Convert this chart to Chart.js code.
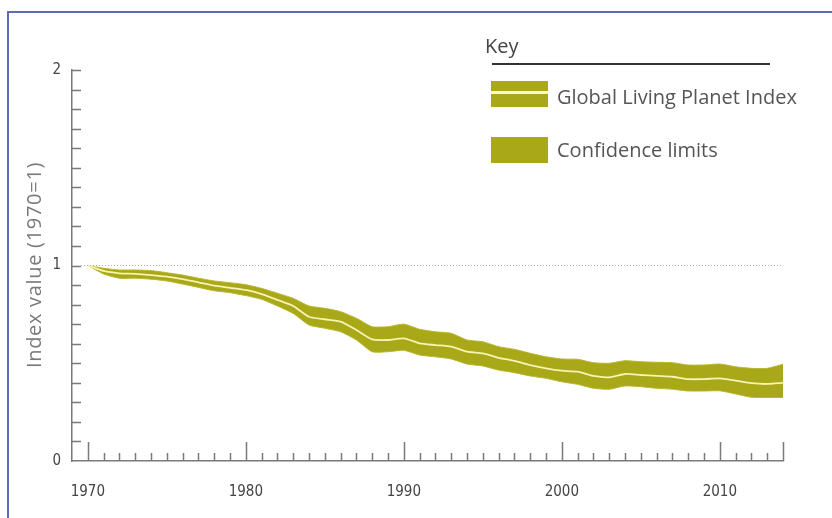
<!DOCTYPE html>
<html>
<head>
<meta charset="utf-8">
<title>Global Living Planet Index</title>
<script src="https://cdn.jsdelivr.net/npm/chart.js@4.4.1/dist/chart.umd.min.js"></script>
<style>
  html, body { margin: 0; padding: 0; background: #fff; }
  #wrap { position: relative; width: 832px; height: 518px; overflow: hidden; }
  #frame {
    position: absolute; left: 7px; top: 11px; right: 0; bottom: 0;
    border-top: 2px solid #5a6db3; border-left: 2px solid #5a6db3;
  }
  #chart { position: absolute; left: 0; top: 0; }
  .key-text {
    position: absolute; font-family: 'Open Sans', sans-serif; font-size: 20px;
    line-height: 20px; color: #555; white-space: nowrap;
  }
  #yTitle {
    position: absolute; left: -96px; top: 253px; width: 260px; height: 24px;
    font-family: 'Open Sans', sans-serif; font-size: 20px; line-height: 24px;
    letter-spacing: 0.7px; color: #7a7a7a; text-align: center; white-space: nowrap;
    transform: rotate(-90deg); transform-origin: 50% 50%;
  }
  .swatch { position: absolute; left: 491px; width: 57px; height: 26px; background: #a8a818; }
  .swatch .mid { position: absolute; left: 0; right: 0; top: 10px; height: 3px; background: #fbf8cc; }
  #keyRule { position: absolute; left: 492px; top: 63px; width: 278px; height: 2px; background: #333; }
</style>
</head>
<body>
<div id="wrap">
  <div id="frame"></div>
  <canvas id="chart" width="832" height="518"></canvas>
  <div id="yTitle">Index value (1970=1)</div>
  <div class="key-text" style="left:485px; top:36px; color:#444;">Key</div>
  <div id="keyRule"></div>
  <div class="swatch" style="top:81px;"><div class="mid"></div></div>
  <div class="key-text" style="left:557px; top:87px;">Global Living Planet Index</div>
  <div class="swatch" style="top:137px;"></div>
  <div class="key-text" style="left:557px; top:140px;">Confidence limits</div>
</div>
<script>
// Years on the x axis
const years = [1970, 1971, 1972, 1973, 1974, 1975, 1976, 1977, 1978, 1979,
  1980, 1981, 1982, 1983, 1984, 1985, 1986, 1987, 1988, 1989,
  1990, 1991, 1992, 1993, 1994, 1995, 1996, 1997, 1998, 1999,
  2000, 2001, 2002, 2003, 2004, 2005, 2006, 2007, 2008, 2009,
  2010, 2011, 2012, 2013, 2014];

// Index value (1970 = 1)
const lpiIndex = [1.000, 0.972, 0.960, 0.957, 0.951, 0.943, 0.930, 0.914, 0.897, 0.886,
  0.875, 0.854, 0.824, 0.793, 0.738, 0.725, 0.713, 0.670, 0.622, 0.619,
  0.627, 0.602, 0.593, 0.585, 0.559, 0.551, 0.528, 0.512, 0.491, 0.474,
  0.462, 0.457, 0.435, 0.428, 0.445, 0.440, 0.435, 0.431, 0.419, 0.419,
  0.423, 0.411, 0.398, 0.394, 0.400];

// Confidence limits
const upperLimit = [1.000, 0.986, 0.977, 0.977, 0.974, 0.963, 0.951, 0.935, 0.921, 0.912,
  0.902, 0.883, 0.858, 0.832, 0.793, 0.781, 0.764, 0.730, 0.687, 0.687,
  0.700, 0.674, 0.661, 0.653, 0.619, 0.610, 0.585, 0.571, 0.551, 0.533,
  0.522, 0.520, 0.503, 0.500, 0.513, 0.508, 0.505, 0.503, 0.491, 0.491,
  0.496, 0.482, 0.474, 0.474, 0.495];
const lowerLimit = [1.000, 0.957, 0.935, 0.935, 0.930, 0.921, 0.905, 0.888, 0.871, 0.861,
  0.846, 0.827, 0.793, 0.755, 0.696, 0.679, 0.661, 0.619, 0.559, 0.559,
  0.566, 0.542, 0.533, 0.522, 0.496, 0.486, 0.465, 0.452, 0.435, 0.423,
  0.405, 0.392, 0.372, 0.367, 0.384, 0.380, 0.372, 0.367, 0.358, 0.358,
  0.359, 0.343, 0.326, 0.325, 0.325];

// Labelled ticks
const xTickLabels = [1970, 1980, 1990, 2000, 2010];
const yTickLabels = [0, 1, 2];

const olive = '#a8a818';
const lineCol = '#f7f3b0';
const axisCol = '#7a7a7a';
const labelFont = { family: "'DejaVu Sans Condensed', 'Liberation Sans Narrow', sans-serif", size: 15 };

const toPoints = arr => arr.map((v, i) => ({ x: years[i], y: v }));

// inward tick marks and the dotted 1970 baseline
const axisMarks = {
  id: 'axisMarks',
  beforeDatasetsDraw(chart) {
    const { ctx, scales: { x, y } } = chart;
    const yp = y.getPixelForValue(1);
    ctx.save();
    ctx.strokeStyle = '#b0b0b0';
    ctx.lineWidth = 1;
    ctx.setLineDash([1, 2]);
    ctx.beginPath();
    ctx.moveTo(x.left + 9, yp);
    ctx.lineTo(x.getPixelForValue(years[years.length - 1]), yp);
    ctx.stroke();
    ctx.restore();
  },
  afterDraw(chart) {
    const { ctx, scales: { x, y } } = chart;
    const base = y.getPixelForValue(0);
    ctx.save();
    ctx.strokeStyle = axisCol;
    ctx.lineWidth = 1.5;
    ctx.beginPath();
    years.forEach((yr, i) => {
      const px = Math.round(x.getPixelForValue(yr)) + 0.5;
      const major = yr % 10 === 0 || i === years.length - 1;
      ctx.moveTo(px, base);
      ctx.lineTo(px, base - (major ? 19 : 8));
    });
    for (let k = 1; k <= 20; k++) {
      const py = Math.round(y.getPixelForValue(k / 10)) + 0.5;
      ctx.moveTo(x.left, py);
      ctx.lineTo(x.left + 9, py);
    }
    ctx.stroke();
    ctx.restore();
  }
};

new Chart(document.getElementById('chart'), {
  type: 'line',
  data: {
    datasets: [
      {
        label: 'Lower limit',
        data: toPoints(lowerLimit),
        borderColor: '#b6b52a',
        borderWidth: 1,
        pointRadius: 0,
        fill: false,
        tension: 0.2,
        order: 1,
      },
      {
        label: 'Confidence limits',
        data: toPoints(upperLimit),
        borderColor: '#b6b52a',
        borderWidth: 1,
        backgroundColor: olive,
        pointRadius: 0,
        fill: '-1',
        tension: 0.2,
        order: 1,
      },
      {
        label: 'Global Living Planet Index',
        data: toPoints(lpiIndex),
        borderColor: lineCol,
        borderWidth: 1.8,
        pointRadius: 0,
        fill: false,
        tension: 0.2,
        order: 0,
      },
    ],
  },
  options: {
    responsive: false,
    animation: false,
    layout: { padding: { top: 70, right: 49, left: 0, bottom: 0 } },
    plugins: { legend: { display: false }, tooltip: { enabled: false } },
    scales: {
      x: {
        type: 'linear',
        min: 1969,
        max: 2014,
        afterBuildTicks: scale => { scale.ticks = xTickLabels.map(v => ({ value: v })); },
        afterFit: scale => { scale.height = 57; },
        grid: { display: false, drawTicks: false },
        border: { display: true, color: axisCol, width: 1.5 },
        ticks: { padding: 22, font: labelFont, color: '#444', callback: v => String(v) },
      },
      y: {
        min: 0,
        max: 2,
        afterBuildTicks: scale => { scale.ticks = yTickLabels.map(v => ({ value: v })); },
        afterFit: scale => { scale.width = 72; },
        grid: { display: false, drawTicks: false },
        border: { display: true, color: axisCol, width: 1.5 },
        ticks: { padding: 11, font: labelFont, color: '#444' },
      },
    },
  },
  plugins: [axisMarks],
});
</script>
</body>
</html>
